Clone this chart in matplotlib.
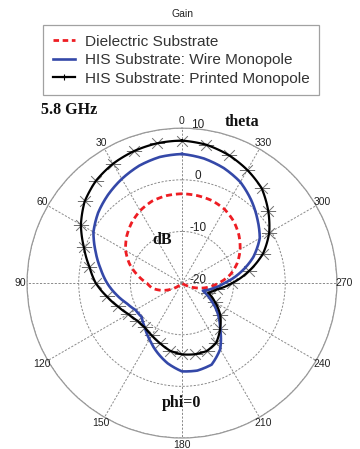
import numpy as np
import matplotlib
matplotlib.use("Agg")
import matplotlib.pyplot as plt
from matplotlib.path import Path
from matplotlib.lines import Line2D

# ---------------- data (gain in dB, phi = 0 cut, theta in degrees) ----------------
theta_deg = list(range(0, 360, 10))

dielectric_db = [-2.7, -2.8, -3.1, -3.8, -4.8, -6.0, -7.4, -9.2, -11.3, -13.2,
                 -14.2, -15.9, -17.7, -19.2, -20.0, -20.0, -20.0, -20.0, -20.0, -20.0,
                 -20.0, -20.0, -20.0, -20.0, -19.3, -17.4, -15.1, -12.9, -10.5, -8.6,
                 -7.0, -5.6, -4.4, -3.5, -3.0, -2.8]

wire_monopole_db = [5.0, 4.8, 4.2, 3.3, 2.3, 1.2, -0.2, -2.2, -4.0, -5.5,
                    -7.1, -8.6, -9.6, -9.8, -8.8, -7.4, -5.8, -4.2, -2.9, -2.8,
                    -3.2, -5.2, -8.5, -11.0, -13.6, -15.7, -14.0, -11.8, -8.6, -5.3,
                    -2.6, -0.9, 0.9, 2.6, 3.7, 4.5]

printed_monopole_db = [7.6, 7.5, 7.2, 6.7, 5.9, 4.6, 2.6, 0.2, -1.8, -3.3,
                       -5.2, -6.8, -8.0, -8.7, -8.8, -8.3, -7.6, -6.7, -6.2, -6.0,
                       -6.0, -6.7, -8.5, -10.3, -12.6, -14.6, -13.1, -10.3, -6.9, -3.3,
                       -0.5, 1.8, 4.0, 5.3, 6.4, 7.2]

series_labels = ["Dielectric Substrate",
                 "HIS Substrate: Wire Monopole",
                 "HIS Substrate: Printed Monopole"]

angle_ticks = list(range(0, 360, 30))
angle_tick_labels = [str(a) for a in angle_ticks]
radial_ticks = [-20, -10, 0, 10]
radial_tick_labels = ["-20", "-10", "0", "10"]
r_min, r_max = -20, 10

# ---------------- styling ----------------
SANS = ["Liberation Sans", "DejaVu Sans"]
SERIF = ["Liberation Serif", "DejaVu Serif"]
RED = "#ee1d23"
BLUE = "#3448a8"
GRID = "#8a8a8a"
TXT = "#222222"


def closed(vals):
    th = np.deg2rad(np.array(theta_deg + [360]))
    v = np.array(list(vals) + [vals[0]])
    return th, v


def smooth_polar(line, steps=24):
    # let the polar transform draw each segment as an arc rather than a chord
    line.get_path()._interpolation_steps = steps


fig = plt.figure(figsize=(3.6, 4.49), dpi=100)
ax = fig.add_axes([0.075, 0.0245, 0.861, 0.690], projection="polar")
ax.set_theta_zero_location("N")
ax.set_theta_direction(1)
ax.set_rlim(r_min, r_max)

ax.set_xticks(np.deg2rad(angle_ticks))
ax.set_xticklabels([])
ax.set_yticks([-10, 0, 10])
ax.set_yticklabels([])
ax.grid(True, color=GRID, linestyle=(0, (2.2, 1.6)), linewidth=0.7)
ax.spines["polar"].set_color("#9a9a9a")
ax.spines["polar"].set_linewidth(0.9)
ax.tick_params(length=0)

# asterisk marker (MATLAB style)
ast = Path([(-1, 0), (1, 0), (-0.7, -0.7), (0.7, 0.7), (-0.7, 0.7), (0.7, -0.7)],
           [Path.MOVETO, Path.LINETO, Path.MOVETO, Path.LINETO, Path.MOVETO, Path.LINETO])

th, v = closed(dielectric_db)
ln, = ax.plot(th, v, color=RED, lw=2.0, linestyle=(0, (2.2, 1.4)), zorder=3)
smooth_polar(ln)
th, v = closed(wire_monopole_db)
ln, = ax.plot(th, v, color=BLUE, lw=1.9, zorder=3)
smooth_polar(ln)
th, v = closed(printed_monopole_db)
ax.plot(th[:-1], v[:-1], linestyle="none", marker=ast, markersize=11,
        markerfacecolor="none", markeredgecolor="#707070", markeredgewidth=0.7, zorder=2)
ln, = ax.plot(th, v, color="black", lw=1.6, zorder=4)
smooth_polar(ln)

# angle labels
r_lab = r_min + 162 / 155 * (r_max - r_min)
for a, s in zip(angle_ticks, angle_tick_labels):
    ax.text(np.deg2rad(a), r_lab, s, ha="center", va="center", fontsize=7.5,
            family=SANS, color=TXT, clip_on=False)

# radial labels
for rv, s in zip(radial_ticks, radial_tick_labels):
    ax.annotate(s, xy=(0, rv), xytext=(11.5, 2.5), textcoords="offset points",
                ha="center", va="center", fontsize=8.5, family=SANS, color=TXT,
                annotation_clip=False)

# bold serif annotations
fig.text(41 / 360, 1 - 110 / 449, "5.8 GHz", ha="left", va="center",
         fontsize=11.5, fontweight="bold", family=SERIF, color="#111111")
fig.text(225 / 360, 1 - 122 / 449, "theta", ha="left", va="center",
         fontsize=11.5, fontweight="bold", family=SERIF, color="#111111")
fig.text(162 / 360, 1 - 240 / 449, "dB", ha="center", va="center",
         fontsize=11.5, fontweight="bold", family=SERIF, color="#111111")
fig.text(181 / 360, 1 - 403 / 449, "phi=0", ha="center", va="center",
         fontsize=11.5, fontweight="bold", family=SERIF, color="#111111")

# title
fig.text(182 / 360, 1 - 14 / 449, "Gain", ha="center", va="center",
         fontsize=7.5, family=SANS, color=TXT)

# legend
handles = [
    Line2D([], [], color=RED, lw=2.0, linestyle=(0, (2.0, 1.3))),
    Line2D([], [], color=BLUE, lw=1.9),
    Line2D([], [], color="black", lw=1.6, marker="+", markersize=4,
           markeredgewidth=0.8),
]
leg = fig.legend(handles, series_labels, loc="upper left",
                 bbox_to_anchor=(43 / 360, 1 - 25 / 449),
                 prop={"family": SANS, "size": 11.1}, frameon=True, fancybox=False,
                 edgecolor="#8a8a8a", handlelength=1.45, handletextpad=0.65,
                 borderpad=0.62, labelspacing=0.3, borderaxespad=0.0)
leg.get_frame().set_linewidth(0.9)
for t in leg.get_texts():
    t.set_color("#333333")

fig.savefig("out.png", dpi=100)
